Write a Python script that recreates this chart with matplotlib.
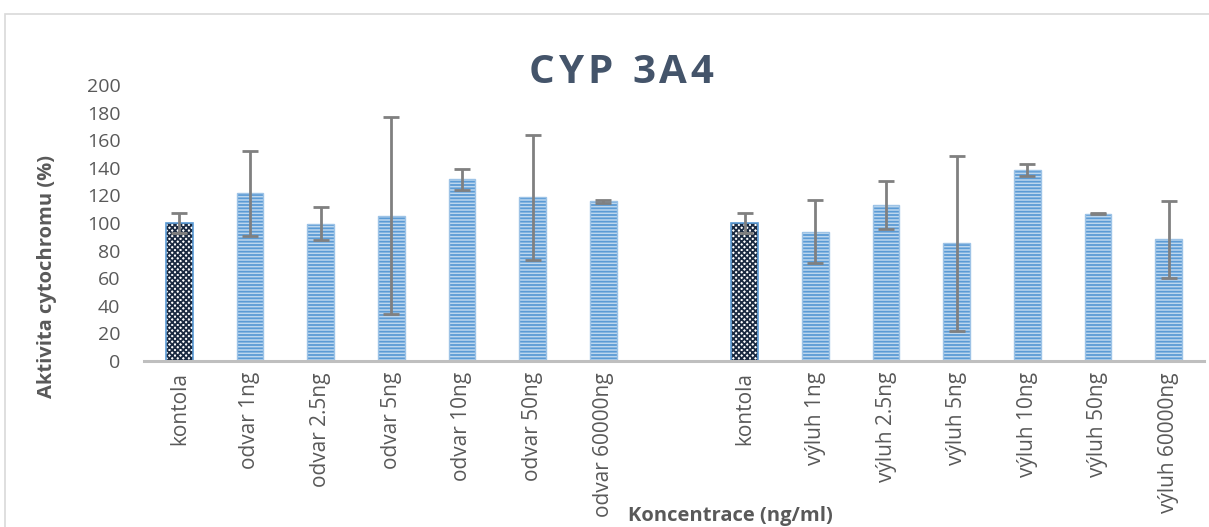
import matplotlib
matplotlib.use("Agg")
import matplotlib.pyplot as plt
from matplotlib.patches import Rectangle
import numpy as np

# ---- data ----
categories = ["kontola", "odvar 1ng", "odvar 2.5ng", "odvar 5ng", "odvar 10ng",
              "odvar 50ng", "odvar 60000ng", "",
              "kontola", "výluh 1ng", "výluh 2.5ng", "výluh 5ng", "výluh 10ng",
              "výluh 50ng", "výluh 60000ng"]
values = [100, 121.5, 99.5, 105.2, 131.6, 118.5, 115.7, np.nan,
          100, 93.7, 112.8, 85.3, 138.2, 106.8, 88.2]
errors = [7.5, 31.0, 12.0, 71.5, 7.7, 45.0, 1.0, np.nan,
          7.5, 22.7, 17.4, 63.4, 4.3, 0.5, 28.0]
is_control = [True, False, False, False, False, False, False, False,
              True, False, False, False, False, False, False]
yticks = [0, 20, 40, 60, 80, 100, 120, 140, 160, 180, 200]
title = "CYP 3A4"
xlabel = "Koncentrace (ng/ml)"
ylabel = "Aktivita cytochromu (%)"

plt.rcParams['font.family'] = ['Open Sans', 'DejaVu Sans']
plt.rcParams['hatch.linewidth'] = 1.3

W, H = 1209, 527
fig = plt.figure(figsize=(W / 100, H / 100), dpi=100)
fig.patch.set_facecolor('white')

# outer chart border
fig.patches.append(Rectangle((5 / W, -0.1), 1.2, 1 - 14 / H + 0.1,
                             transform=fig.transFigure, fill=False,
                             edgecolor='#D9D9D9', linewidth=1.2, zorder=0))

ax = fig.add_axes([144 / W, 1 - 361 / H, (1204 - 144) / W, (361 - 85) / H])

x = np.arange(len(categories))
vals = np.array(values, dtype=float)
errs = np.array(errors, dtype=float)
ctrl = np.array(is_control)
normal = (~ctrl) & ~np.isnan(vals)

bw = 0.38
# patterned bars
ax.bar(x[normal], vals[normal], width=bw, color='#BDD7EE', edgecolor='#5B9BD5',
       hatch='-----', linewidth=0, zorder=2)
ax.bar(x[ctrl], vals[ctrl], width=bw, color='white', edgecolor='#1B2A41',
       hatch='xxxxxx', linewidth=0, zorder=2)
# outlines
ax.bar(x[normal], vals[normal], width=bw, fill=False, edgecolor='#9DC3E6',
       linewidth=1.0, zorder=3)
ax.bar(x[ctrl], vals[ctrl], width=bw, fill=False, edgecolor='#5B9BD5',
       linewidth=1.2, zorder=3)

ok = ~np.isnan(vals)
ax.errorbar(x[ok], vals[ok], yerr=errs[ok], fmt='none', ecolor='#808080',
            elinewidth=2, capsize=6, capthick=2, zorder=4)

ax.set_xlim(-0.5, len(categories) - 0.5)
ax.set_ylim(0, 200)
ax.set_yticks(yticks)
ax.set_yticklabels([str(v) for v in yticks])
ax.set_xticks(x)
ax.set_xticklabels(categories, rotation=90, va='top', ha='center')
ax.tick_params(axis='both', length=0, labelcolor='#595959')
ax.tick_params(axis='y', pad=17, labelsize=14)
ax.tick_params(axis='x', pad=8, labelsize=15)
for s in ['top', 'right', 'left']:
    ax.spines[s].set_visible(False)
ax.spines['bottom'].set_color('#BFBFBF')
ax.spines['bottom'].set_linewidth(2.2)
ax.spines['bottom'].set_zorder(5)

# axis titles
fig.text(730 / W, 1 - 516 / H, xlabel, ha='center', va='center',
         fontsize=14.5, fontweight='bold', color='#595959')
fig.text(47 / W, 1 - 276 / H, ylabel, ha='center', va='center', rotation=90,
         fontsize=14.5, fontweight='bold', color='#595959')

# letter-spaced title
renderer = fig.canvas.get_renderer()
spacing = 4.0
base_y = 1 - 83 / H
widths = []
for ch in title:
    t = fig.text(0, base_y, ch if ch != ' ' else 'n', fontsize=29, fontweight='bold')
    bb = t.get_window_extent(renderer=renderer)
    widths.append(bb.width * (0.45 if ch == ' ' else 1.0))
    t.remove()
total = sum(widths) + spacing * (len(title) - 1)
cx = 621
xpos = cx - total / 2
for ch, w in zip(title, widths):
    if ch != ' ':
        fig.text(xpos / W, base_y, ch, fontsize=29, fontweight='bold',
                 color='#44546A', ha='left', va='baseline')
    xpos += w + spacing

fig.savefig('out.png', dpi=100, facecolor='white')
